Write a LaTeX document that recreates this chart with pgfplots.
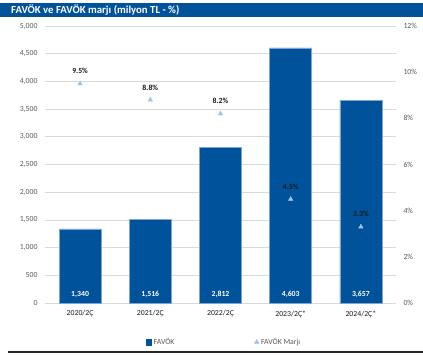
\documentclass[border=0pt]{standalone}
\usepackage{fontspec}
\setmainfont{Carlito}
\usepackage{pgfplots}
\pgfplotsset{compat=1.18}
\definecolor{favblue}{HTML}{00529B}
\definecolor{tri}{HTML}{9DC3E6}
\definecolor{gridc}{HTML}{D9D9D9}
\definecolor{lab}{HTML}{595959}
\definecolor{dark}{HTML}{1A1A1A}
\definecolor{bedge}{HTML}{7FA6D3}
\begin{document}
\begin{tikzpicture}
\useasboundingbox (0bp,0bp) rectangle (423bp,-355bp);
\fill[favblue] (0bp,-3bp) rectangle (423bp,-16.5bp);
\node[anchor=west, text=white, font=\fontsize{10.8}{12}\selectfont\bfseries, inner sep=0pt] at (11bp,-9.8bp) {FAVÖK ve FAVÖK marjı (milyon TL - \%)};
\draw[black!85, line width=1.2bp] (8bp,-352bp) -- (423bp,-352bp);

\begin{axis}[at={(45bp,-303bp)}, anchor=south west, scale only axis,
  width=351bp, height=277bp,
  ybar, bar width=42bp, xmin=-0.5, xmax=4.5, ymin=0, ymax=5000,
  xtick={0,...,4}, xticklabels={2020/2Ç, 2021/2Ç, 2022/2Ç, 2023/2Ç*, 2024/2Ç*},
  ytick={0,500,...,5000}, ymajorgrids, grid style={gridc, line width=0.7bp},
  axis line style={draw=none}, major tick length=0pt,
  /pgf/number format/assume math mode=true,
  /pgf/number format/1000 sep={,},
  scaled y ticks=false,
  yticklabel style={text=lab, font=\fontsize{7.8}{9}\selectfont, xshift=-4bp},
  xticklabel style={text=dark, font=\fontsize{7.8}{9}\selectfont, yshift=-4bp},
  clip=false]
\addplot[fill=favblue, draw=bedge, line width=0.4bp] coordinates {(0,1340) (1,1516) (2,2812) (3,4603) (4,3657)};
\end{axis}

\begin{axis}[at={(45bp,-303bp)}, anchor=south west, scale only axis,
  width=351bp, height=277bp,
  xmin=-0.5, xmax=4.5, ymin=0, ymax=12,
  axis y line*=right, axis x line=none,
  ytick={0,2,...,12}, major tick length=0pt,
  axis line style={draw=none},
  /pgf/number format/assume math mode=true,
  yticklabel={\pgfmathprintnumber{\tick}\%},
  yticklabel style={text=lab, font=\fontsize{7.8}{9}\selectfont, xshift=4bp},
  clip=false,
  legend columns=2,
  legend style={draw=none, fill=none, at={(0.51,-0.141)}, anchor=center,
    font=\fontsize{7.8}{9}\selectfont, text=lab,
    /tikz/every even column/.append style={column sep=78bp},
    inner sep=0pt},
  legend cell align=left]
\addlegendimage{legend image code/.code={\fill[favblue] (0bp,-2.8bp) rectangle (5.6bp,2.8bp);}}
\addlegendentry{FAVÖK}
\addplot[only marks, mark=triangle*, mark size=2.6bp, color=tri,
  nodes near coords, point meta=explicit symbolic,
  every node near coord/.append style={anchor=center, yshift=12.5bp, text=dark, font=\fontsize{7.8}{9}\selectfont\bfseries}]
  coordinates {(0,9.5) [9.5\%] (1,8.8) [8.8\%] (2,8.2) [8.2\%] (3,4.5) [4.5\%] (4,3.3) [3.3\%]};
\addlegendentry{FAVÖK Marjı}
\addplot[forget plot, draw=none, mark=none,
  nodes near coords, point meta=explicit symbolic,
  every node near coord/.append style={anchor=base, yshift=7bp, text=white, font=\fontsize{7.8}{9}\selectfont\bfseries}]
  coordinates {(0,0) [1,340] (1,0) [1,516] (2,0) [2,812] (3,0) [4,603] (4,0) [3,657]};
\end{axis}
\end{tikzpicture}
\end{document}
